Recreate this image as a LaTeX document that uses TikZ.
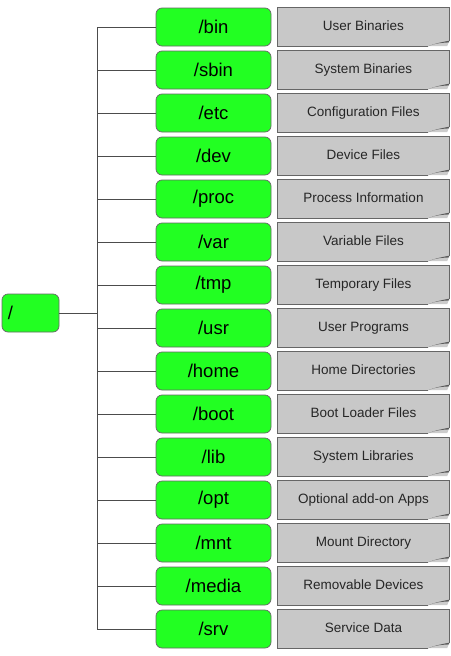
\documentclass[tikz,border=0pt]{standalone}
\usepackage{fontspec}
\setmainfont{Liberation Sans}
\usetikzlibrary{positioning,calc}
\definecolor{dirgreen}{HTML}{22FF22}
\definecolor{notegrey}{HTML}{C8C8C8}
\begin{document}
\begin{tikzpicture}[x=1pt,y=-1pt]
\tikzset{
  dirbox/.style={draw=black!60, fill=dirgreen, rounded corners=6pt, line width=0.7pt,
    minimum width=115pt, minimum height=38pt, inner sep=0pt, font=\fontsize{18.5}{20}\selectfont},
  notebox/.style={draw=none, fill=notegrey, minimum width=171pt, minimum height=38pt,
    inner sep=0pt, text=black!85, font=\fontsize{13.5}{15}\selectfont},
  link/.style={draw=black!70, line width=0.7pt}
}
\useasboundingbox (0,0) rectangle (450,656);
% root directory
\node[dirbox, minimum width=57pt, text width=45pt, align=left] (root) at (30.5,313) {/};
% trunk
\coordinate (ttop) at (97,27);
\coordinate (tbot) at (97,629);
\draw[link] (ttop) -- (tbot);
\draw[link] (root.east) -- (root.east -| ttop);
\foreach \d/\t [count=\i from 0] in {bin/User Binaries, sbin/System Binaries,
    etc/Configuration Files, dev/Device Files, proc/Process Information,
    var/Variable Files, tmp/Temporary Files, usr/User Programs,
    home/Home Directories, boot/Boot Loader Files, lib/System Libraries,
    opt/Optional add-on Apps, mnt/Mount Directory, media/Removable Devices,
    srv/Service Data} {
  \node[dirbox] (\d) at (213.5,27+43*\i) {/\d};
  \node[notebox] (\d-note) at (363.5,27+43*\i) {\raisebox{2.5pt}{\t}};
  % folded corner
  \fill[white] (\d-note.south east) -- ($(\d-note.south east)+(0,-5)$)
    -- ($(\d-note.south east)+(-21,0)$) -- cycle;
  \fill[black!20] ($(\d-note.south east)+(0,-5)$)
    .. controls ($(\d-note.south east)+(-8,-3.5)$) and ($(\d-note.south east)+(-15,-2.5)$)
    .. ($(\d-note.south east)+(-21,0)$) -- ($(\d-note.south east)+(-2,0)$) -- cycle;
  \fill[black!65] ($(\d-note.south east)+(0,-5.5)$)
    .. controls ($(\d-note.south east)+(-8,-4)$) and ($(\d-note.south east)+(-15,-2.5)$)
    .. ($(\d-note.south east)+(-21,0)$)
    .. controls ($(\d-note.south east)+(-14,-3)$) and ($(\d-note.south east)+(-7,-3.5)$)
    .. ($(\d-note.south east)+(0,-3.8)$) -- cycle;
  \draw[draw=black!60, line width=0.7pt] ($(\d-note.south east)+(0,-5)$)
    -- (\d-note.north east) -- (\d-note.north west) -- (\d-note.south west)
    -- ($(\d-note.south east)+(-21,0)$);
  \draw[link] (\d.west -| ttop) -- (\d.west);
}
\end{tikzpicture}
\end{document}
